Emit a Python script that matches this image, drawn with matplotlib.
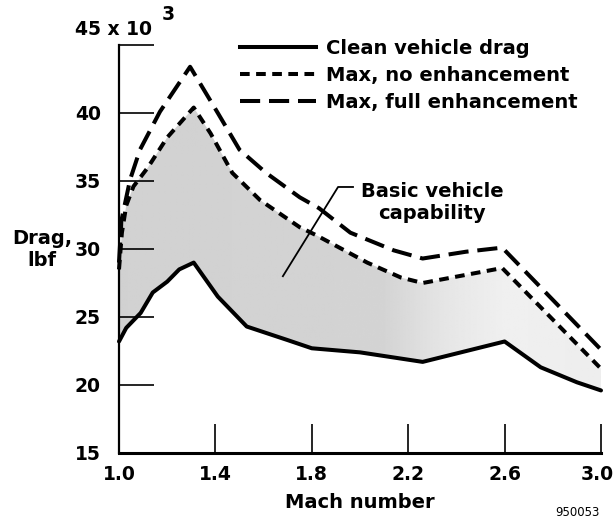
import numpy as np
import matplotlib
matplotlib.use("Agg")
import matplotlib.pyplot as plt
from matplotlib.lines import Line2D
from matplotlib.transforms import ScaledTranslation

# Drag (x 10^3 lbf) vs Mach number
mach_clean = [1.0, 1.03, 1.09, 1.14, 1.2, 1.25, 1.31, 1.41, 1.53, 1.70, 1.8,
              2.0, 2.26, 2.6, 2.75, 2.9, 3.0]
drag_clean = [23.2, 24.2, 25.3, 26.8, 27.6, 28.5, 29.0, 26.5, 24.3, 23.3, 22.7,
              22.4, 21.7, 23.2, 21.3, 20.2, 19.6]

mach_noenh = [1.0, 1.012, 1.03, 1.06, 1.12, 1.2, 1.31, 1.38, 1.47, 1.585, 1.75,
              1.82, 2.03, 2.17, 2.26, 2.44, 2.59, 3.0]
drag_noenh = [28.5, 31.2, 33.2, 34.6, 36.0, 38.2, 40.4, 38.5, 35.6, 33.6, 31.6,
              31.0, 29.0, 27.9, 27.5, 28.1, 28.6, 21.2]

mach_full = [1.0, 1.01, 1.046, 1.087, 1.17, 1.295, 1.41, 1.50, 1.61, 1.75, 1.83,
             1.96, 2.14, 2.26, 2.44, 2.59, 3.0]
drag_full = [29.0, 32.1, 35.1, 37.3, 40.1, 43.4, 40.0, 37.3, 35.6, 33.8, 33.0,
             31.2, 29.9, 29.3, 29.8, 30.1, 22.6]

x_ticks = [1.0, 1.4, 1.8, 2.2, 2.6, 3.0]
y_ticks = [15, 20, 25, 30, 35, 40, 45]
y_ticklabels = ["15", "20", "25", "30", "35", "40", ""]

plt.rcParams["font.family"] = ["DejaVu Sans"]
plt.rcParams["font.weight"] = "bold"

fig = plt.figure(figsize=(6.16, 5.22), dpi=100)
ax = fig.add_axes([119 / 616, 1 - 453 / 522, 482 / 616, 408 / 522])

# shaded band between clean drag and max (no enhancement), fading to the right
grid = np.linspace(1.0, 3.0, 400)
band_lo = np.interp(grid, mach_clean, drag_clean)
band_hi = np.interp(grid, mach_noenh, drag_noenh)
band = ax.fill_between(grid, band_lo, band_hi, facecolor="none", edgecolor="none")
shade = np.interp(grid, [1.0, 2.1, 2.35, 2.6, 3.0], [0.82, 0.83, 0.90, 0.94, 0.93])
img = np.repeat(shade[None, :], 2, axis=0)
im = ax.imshow(img, cmap="gray", vmin=0, vmax=1, aspect="auto",
               extent=(1.0, 3.0, 15, 45), origin="lower", zorder=0.5)
im.set_clip_path(band.get_paths()[0], transform=ax.transData)

lw = 2.9
ax.plot(mach_clean, drag_clean, color="black", lw=lw, solid_capstyle="round",
        solid_joinstyle="round", clip_on=False, zorder=3)
ax.plot(mach_noenh, drag_noenh, color="black", lw=lw, ls=(0, (2.4, 1.6)),
        clip_on=False, zorder=3)
ax.plot(mach_full, drag_full, color="black", lw=lw, ls=(0, (5.0, 2.2)),
        clip_on=False, zorder=3)

ax.set_xlim(1.0, 3.0)
ax.set_ylim(15, 45)
ax.set_xticks(x_ticks)
ax.set_xticklabels([f"{v:.1f}" for v in x_ticks])
ax.set_yticks(y_ticks)
ax.set_yticklabels(y_ticklabels)
ax.tick_params(axis="x", direction="in", length=21, width=1.2, pad=9, labelsize=13.5)
ax.tick_params(axis="y", direction="in", length=25, width=1.2, pad=13, labelsize=13.5)
# keep the last x label inside the canvas
last = ax.get_xticklabels()[-1]
last.set_transform(last.get_transform() + ScaledTranslation(-3 / 72, 0, fig.dpi_scale_trans))
for s in ("top", "right"):
    ax.spines[s].set_visible(False)
ax.spines["left"].set_linewidth(1.6)
ax.spines["bottom"].set_linewidth(2.2)
ax.patch.set_visible(False)

ax.set_xlabel("Mach number", fontsize=14, fontweight="bold", labelpad=6)
ax.set_ylabel("Drag,\nlbf", fontsize=14, fontweight="bold", rotation=0,
              ha="center", va="center", multialignment="center")
ax.yaxis.set_label_coords(-0.16, 0.50)

ax.text(-0.091, 1.037, "45 x 10", transform=ax.transAxes, fontsize=13.5,
        fontweight="bold", ha="left", va="center")
ax.text(0.102, 1.074, "3", transform=ax.transAxes, fontsize=13.5,
        fontweight="bold", ha="center", va="center")

# callout for the shaded band
ax.plot([1.68, 1.909, 1.971], [28.0, 34.56, 34.56], color="black", lw=1.3, zorder=4)
ax.text(2.30, 33.4, "Basic vehicle\ncapability", fontsize=14, fontweight="bold",
        ha="center", va="center", multialignment="center", linespacing=1.2)

handles = [
    Line2D([], [], color="black", lw=lw),
    Line2D([], [], color="black", lw=lw, ls=(0, (2.4, 1.6))),
    Line2D([], [], color="black", lw=lw, ls=(0, (5.0, 2.2))),
]
labels = ["Clean vehicle drag", "Max, no enhancement", "Max, full enhancement"]
ax.legend(handles, labels, loc="upper left", bbox_to_anchor=(240 / 616, 1 - 39 / 522),
          bbox_transform=fig.transFigure, frameon=False, borderpad=0,
          borderaxespad=0, handlelength=3.9, handletextpad=0.5, labelspacing=0.4,
          prop={"size": 14, "weight": "bold"})

fig.text(0.937, 0.019, "950053", fontsize=8.5, fontweight="normal",
         ha="center", va="center")

fig.savefig("out.png", dpi=100)
